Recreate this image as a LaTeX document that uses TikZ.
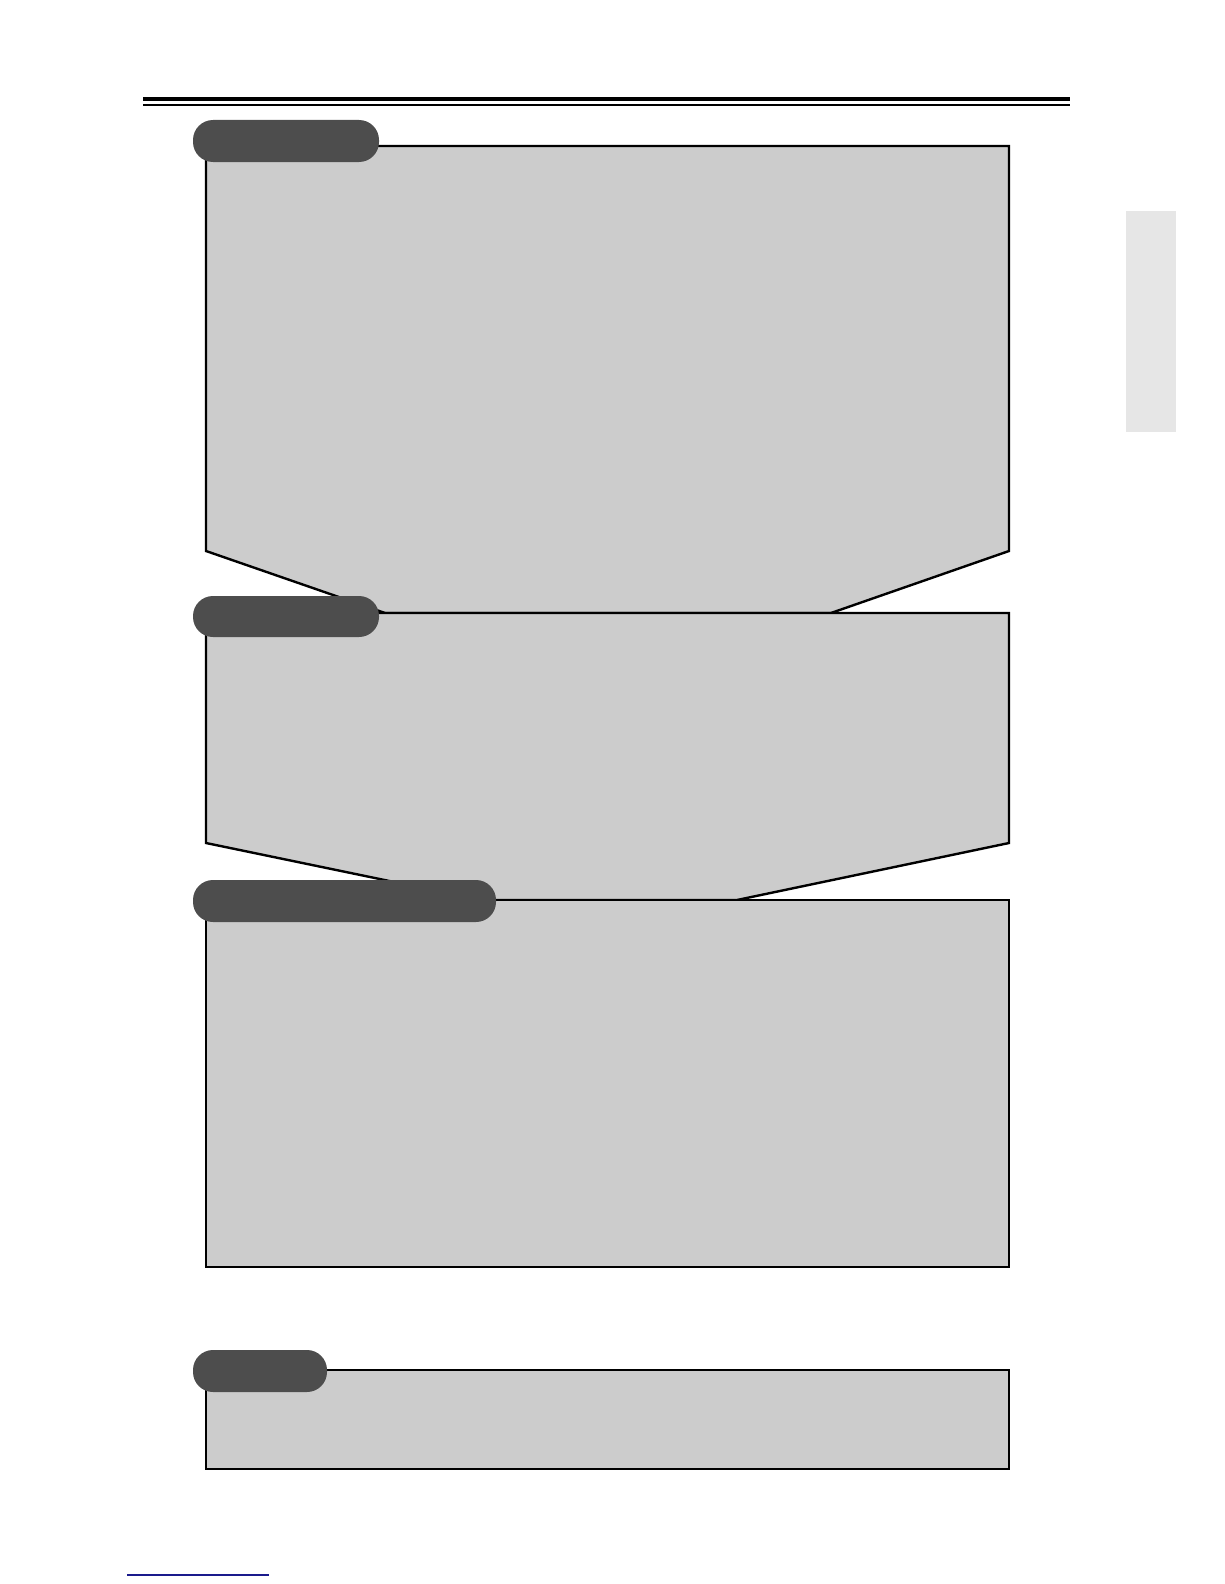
\documentclass[tikz,border=0pt]{standalone}
\definecolor{boxgray}{HTML}{CCCCCC}
\definecolor{tabgray}{HTML}{4D4D4D}
\definecolor{sidegray}{HTML}{E6E6E6}
\definecolor{linkblue}{HTML}{1A1A8C}
\tikzset{
  panel/.style={fill=boxgray, draw=black, line width=2.4pt, line join=miter},
  tabshape/.style={fill=tabgray, draw=none, rounded corners=20pt},
}
\begin{document}
\begin{tikzpicture}[x=1pt,y=-1pt]
\useasboundingbox (0,0) rectangle (1224,1584);
% header rules
\draw[line width=4.3pt] (143,98.8) -- (1070,98.8);
\draw[line width=1.4pt] (143,105) -- (1070,105);
% side tab
\fill[sidegray] (1126,211) rectangle (1176,432);
% panel 1
\draw[panel] (206,146) -- (1009,146) -- (1009,551) -- (831,613) -- (385,613) -- (206,551) -- cycle;
% panel 2
\draw[panel] (206,613) -- (1009,613) -- (1009,843) -- (737,900) -- (481,900) -- (206,843) -- cycle;
% panel 3
\draw[panel] (206,900) rectangle (1009,1267);
% panel 4
\draw[panel] (206,1370) rectangle (1009,1469);
% tabs
\fill[tabshape] (193,120) rectangle (379,162);
\fill[tabshape] (193,596) rectangle (379,637);
\fill[tabshape] (193,880) rectangle (496,922);
\fill[tabshape] (193,1350) rectangle (327,1392);
% bottom link line
\draw[linkblue, line width=1.2pt] (127,1575) -- (269,1575);
\end{tikzpicture}
\end{document}
